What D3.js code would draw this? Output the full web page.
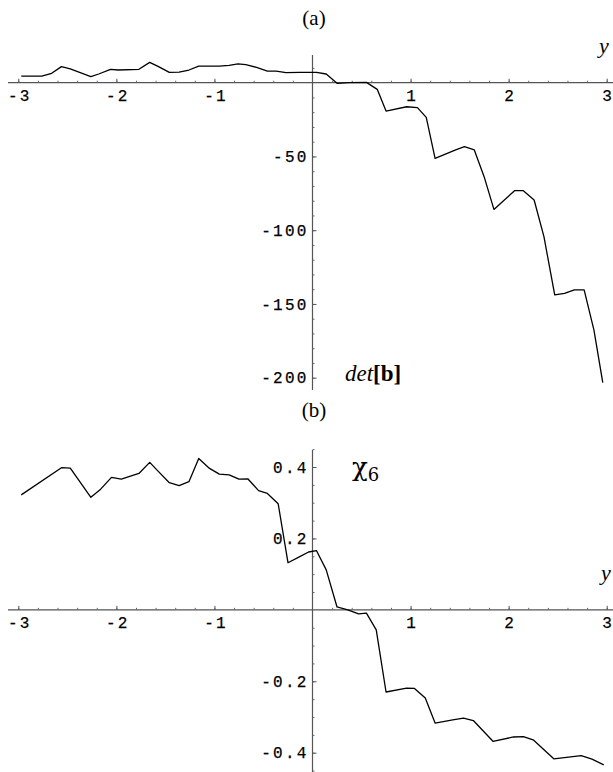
<!DOCTYPE html>
<html>
<head>
<meta charset="utf-8">
<script src="https://cdn.jsdelivr.net/npm/d3@7"></script>
<style>
  body { margin: 0; background: #fff; }
  .tick text { font-family: 'Liberation Mono', monospace; font-size: 16px; letter-spacing: 2.2px; fill: #000; stroke: #000; stroke-width: 0.25px; }
  .serif { font-family: 'Liberation Serif', 'Times New Roman', serif; fill: #000; }
</style>
</head>
<body>
<div id="wrapper"></div>
<script>
// (a) det[b] against y
const xA = [-2.97, -2.76, -2.66, -2.56, -2.47, -2.26, -2.18, -2.06, -1.98, -1.77, -1.66, -1.57, -1.46, -1.36, -1.26, -1.16, -0.95, -0.85, -0.76, -0.68, -0.57, -0.46, -0.37, -0.27, -0.13, 0.04, 0.14, 0.25, 0.38, 0.55, 0.66, 0.75, 0.96, 1.07, 1.16, 1.25, 1.46, 1.55, 1.65, 1.75, 1.85, 2.06, 2.15, 2.26, 2.36, 2.47, 2.57, 2.67, 2.77, 2.87, 2.96]
const detB = [4.5, 4.5, 6.4, 10.9, 9.3, 4.1, 5.9, 9.1, 8.6, 9.1, 13.8, 10.9, 7.0, 7.2, 8.6, 11.3, 11.3, 11.8, 12.7, 12.2, 10.4, 7.9, 7.9, 6.8, 7.0, 7.0, 5.9, -0.4, 0.0, 0.2, -4.5, -19.2, -16.3, -16.9, -23.5, -51.3, -45.6, -43.4, -45.6, -63.7, -85.9, -73.2, -73.2, -79.5, -104.4, -143.9, -142.8, -140.5, -140.5, -167.7, -203.4]

// (b) chi_6 against y
const xB = [-2.97, -2.56, -2.47, -2.26, -2.16, -2.05, -1.95, -1.77, -1.66, -1.57, -1.46, -1.36, -1.26, -1.16, -1.05, -0.95, -0.85, -0.75, -0.66, -0.55, -0.46, -0.35, -0.25, -0.13, -0.04, 0.04, 0.14, 0.25, 0.36, 0.47, 0.55, 0.65, 0.75, 0.96, 1.04, 1.15, 1.25, 1.43, 1.54, 1.64, 1.84, 2.05, 2.15, 2.25, 2.46, 2.74, 2.85, 2.97]
const chi6 = [0.322, 0.398, 0.397, 0.315, 0.338, 0.371, 0.366, 0.382, 0.413, 0.387, 0.356, 0.348, 0.359, 0.424, 0.396, 0.380, 0.378, 0.366, 0.367, 0.334, 0.326, 0.297, 0.132, 0.149, 0.162, 0.166, 0.112, 0.008, 0.0, -0.011, -0.009, -0.056, -0.230, -0.219, -0.220, -0.247, -0.317, -0.308, -0.303, -0.310, -0.368, -0.356, -0.355, -0.364, -0.417, -0.408, -0.418, -0.434]

const xTicks = [-3, -2, -1, 1, 2, 3]
const xMinor = [-3, -2.8, -2.6, -2.4, -2.2, -2, -1.8, -1.6, -1.4, -1.2, -1, -0.8, -0.6, -0.4, -0.2, 0.2, 0.4, 0.6, 0.8, 1, 1.2, 1.4, 1.6, 1.8, 2, 2.2, 2.4, 2.6, 2.8, 3]
const yTicksA = [-50, -100, -150, -200]
const yMinorA = d3.range(10, -210, -10).filter(v => v !== 0)
const yTicksB = [0.4, 0.2, -0.2, -0.4]
const yMinorB = d3.range(-0.45, 0.451, 0.05).filter(v => Math.abs(v) > 1e-6)

const width = 613
const height = 772
const fmt = d => String(d).replace('\u2212', '-')

const svg = d3.select('#wrapper').append('svg')
    .attr('width', width)
    .attr('height', height)

const xScale = d3.scaleLinear().domain([-3, 3]).range([18.3, 606.7])

function drawPanel (cfg) {
    const { xs, ys, yScale, yTicks, yMinor, yTop, yBottom } = cfg
    const g = svg.append('g')
    const y0 = yScale(0)
    const x0 = xScale(0)

    // x axis
    g.append('line')
        .attr('x1', 8).attr('x2', width)
        .attr('y1', y0).attr('y2', y0)
        .attr('stroke', '#555').attr('stroke-width', 1.2)
    g.append('g')
        .attr('transform', `translate(0,${y0})`)
        .call(d3.axisBottom(xScale).tickValues(xMinor).tickSize(-2).tickFormat(''))
        .call(s => s.select('.domain').remove())
        .call(s => s.selectAll('.tick line').attr('stroke', '#666'))
    g.append('g')
        .attr('transform', `translate(0,${y0})`)
        .call(d3.axisBottom(xScale).tickValues(xTicks).tickSize(-4).tickPadding(7).tickFormat(fmt))
        .call(s => s.select('.domain').remove())
        .call(s => s.selectAll('.tick line').attr('stroke', '#555'))
        .call(s => s.selectAll('.tick text').attr('dx', '1px'))

    // y axis
    g.append('line')
        .attr('x1', x0).attr('x2', x0)
        .attr('y1', yTop).attr('y2', yBottom)
        .attr('stroke', '#555').attr('stroke-width', 1.2)
    g.append('g')
        .attr('transform', `translate(${x0},0)`)
        .call(d3.axisLeft(yScale).tickValues(yMinor).tickSize(-2).tickFormat(''))
        .call(s => s.select('.domain').remove())
        .call(s => s.selectAll('.tick line').attr('stroke', '#666'))
    g.append('g')
        .attr('transform', `translate(${x0},0)`)
        .call(d3.axisLeft(yScale).tickValues(yTicks).tickSize(-4).tickPadding(4).tickFormat(fmt))
        .call(s => s.select('.domain').remove())
        .call(s => s.selectAll('.tick line').attr('stroke', '#555'))

    const line = d3.line()
        .x((d, i) => xScale(xs[i]))
        .y(d => yScale(d))
    g.append('path')
        .attr('d', line(ys))
        .attr('fill', 'none')
        .attr('stroke', '#000')
        .attr('stroke-width', 1.3)
        .attr('stroke-linejoin', 'round')
    return g
}

const yScaleA = d3.scaleLinear().domain([0, -200]).range([82.7, 377.7])
const gA = drawPanel({ xs: xA, ys: detB, yScale: yScaleA, yTicks: yTicksA, yMinor: yMinorA, yTop: 55, yBottom: 390 })

const yScaleB = d3.scaleLinear().domain([0.4, -0.4]).range([467, 752.7])
const gB = drawPanel({ xs: xB, ys: chi6, yScale: yScaleB, yTicks: yTicksB, yMinor: yMinorB, yTop: 450, yBottom: 772 })

// panel titles and labels
svg.append('text').attr('class', 'serif')
    .attr('x', 314).attr('y', 25)
    .attr('text-anchor', 'middle').style('font-size', '21px')
    .text('(a)')
svg.append('text').attr('class', 'serif')
    .attr('x', 314).attr('y', 417)
    .attr('text-anchor', 'middle').style('font-size', '21px')
    .text('(b)')

svg.append('text').attr('class', 'serif')
    .attr('x', 604).attr('y', 53)
    .attr('text-anchor', 'middle').style('font-size', '22px').style('font-style', 'italic')
    .text('y')
svg.append('text').attr('class', 'serif')
    .attr('x', 606).attr('y', 580)
    .attr('text-anchor', 'middle').style('font-size', '22px').style('font-style', 'italic')
    .text('y')

const det = svg.append('text').attr('class', 'serif')
    .attr('x', 345).attr('y', 381)
    .style('font-size', '23px')
det.append('tspan').style('font-style', 'italic').text('det')
det.append('tspan').style('font-weight', 'bold').text('[b]')

const chi = svg.append('text')
    .attr('x', 352).attr('y', 476)
    .style('font-family', "'DejaVu Serif', serif")
    .style('font-size', '26px')
chi.append('tspan').text('\u03c7')
chi.append('tspan').attr('dy', 5).style('font-size', '18px').text('6')
</script>
</body>
</html>
